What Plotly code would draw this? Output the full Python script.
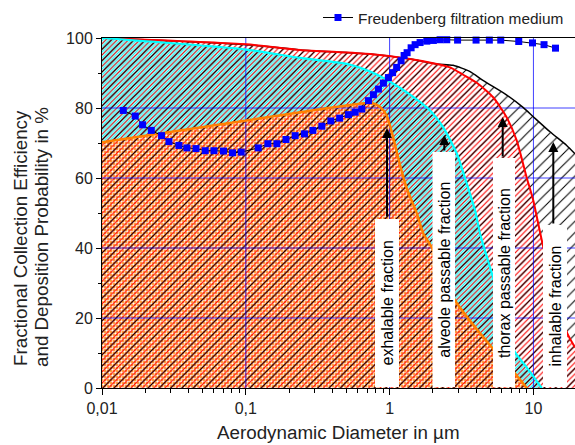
import plotly.graph_objects as go

FONT = "Liberation Sans, Arial, sans-serif"

# ---- data ----
d_inhal = [0.01, 0.1007, 0.2388, 0.732, 1.388, 2.128, 2.763, 3.626, 4.487, 6.524, 8.507, 9.98, 13.04, 17.03, 19.46]
e_inhal = [100, 98.1, 96.6, 95.4, 94.0, 92.6, 92.2, 90.4, 87.8, 83.7, 80.1, 77.5, 73.2, 69.3, 66.9]

d_thorax = [0.01, 0.1007, 0.2388, 0.732, 1.388, 2.128, 2.634, 3.243, 4.036, 5.264, 6.524, 7.656, 8.983, 9.98, 10.76, 11.72, 14.13, 17.2, 19.46]
e_thorax = [100, 98.2, 96.6, 95.4, 94.0, 92.6, 91.6, 89.5, 87.2, 83.0, 77.3, 70.7, 60.1, 53.6, 47.3, 40.2, 27.9, 15.6, 11.6]

d_alveole = [0.01, 0.1007, 0.2388, 0.5043, 0.732, 1.008, 1.388, 1.912, 2.365, 2.931, 3.44, 3.929, 4.256, 5.264, 6.247, 7.452, 8.983, 11.42]
e_alveole = [100, 96.7, 94.3, 92.6, 90.4, 87.5, 83.8, 79.3, 74.4, 67.0, 58.4, 50.7, 44.1, 31.3, 19.9, 10.2, 5.9, 0]

d_exhal = [0.01, 0.2388, 0.6943, 0.7717, 0.859, 0.956, 1.063, 1.183, 1.317, 1.545, 1.718, 1.965, 2.853, 5.131, 7.452, 8.983]
e_exhal = [70.2, 78.8, 81.4, 81.3, 80.3, 77.8, 71.3, 63.6, 57.0, 49.9, 44.1, 40.2, 25.0, 11.6, 4.1, 0]

d_freud = [0.01406, 0.01703, 0.01915, 0.02202, 0.02596, 0.02921, 0.03428, 0.03897, 0.04507, 0.05222,
           0.06003, 0.06998, 0.08084, 0.0929, 0.1220, 0.1424, 0.1645, 0.1903, 0.2204, 0.2558,
           0.2926, 0.3379, 0.3903, 0.4493, 0.5173, 0.5760, 0.6409, 0.7125, 0.7717, 0.8360,
           0.9055, 0.9811, 1.049, 1.119, 1.202, 1.261, 1.323, 1.411, 1.504, 1.629,
           1.814, 2.016, 2.243, 2.497, 2.969, 3.991, 4.937, 5.926, 7.904, 9.856, 11.85, 14.24]
e_freud = [79.3, 77.7, 75.2, 73.6, 72.1, 70.4, 69.3, 68.6, 68.4, 67.8,
           67.8, 67.7, 67.2, 67.4, 68.6, 69.8, 69.8, 71.0, 72.1, 72.6,
           73.6, 74.8, 76.3, 77.1, 78.1, 78.8, 79.7, 82.1, 83.8, 85.4,
           87.1, 88.7, 90.1, 91.6, 93.5, 95.0, 95.8, 97.2, 98.1, 98.7,
           99.1, 99.3, 99.5, 99.5, 99.4, 99.4, 99.4, 99.4, 99.0, 98.6, 98.1, 97.1]

x_major = [0.01, 0.1, 1, 10]
x_major_text = ["0,01", "0,1", "1", "10"]
x_minor = [m * 10.0 ** e for e in (-2, -1, 0, 1) for m in range(2, 10) if m * 10.0 ** e < 19.5]
y_major = [0, 20, 40, 60, 80, 100]
y_minor = [10, 30, 50, 70, 90]
x_grid = [0.1, 1, 10]
y_grid = [20, 40, 60, 80]
x_max = 19.46

labels = ["exhalable fraction", "alveole passable fraction", "thorax passable fraction", "inhalable fraction"]
legend_name = "Freudenberg filtration medium"

CYAN, ORANGE, RED, BLACK, BLUE = "#00FFFF", "#FF8000", "#FF0000", "#000000", "#0000FF"
CLEAR = "rgba(0,0,0,0)"

fig = go.Figure()

def fill_trace(x, y, pattern):
    pattern = dict(pattern, fillmode="replace", fgopacity=1)
    fig.add_trace(go.Scatter(x=x, y=y, mode="lines", line=dict(width=0, shape="spline", smoothing=0.6),
                             fill="tozeroy", fillcolor=CLEAR, fillpattern=pattern,
                             showlegend=False, hoverinfo="skip"))

fill_trace(d_alveole, e_alveole, dict(shape="/", fgcolor=CYAN, bgcolor="rgba(0,255,255,0.3)", size=2, solidity=0.45))
fill_trace(d_exhal, e_exhal, dict(shape=".", fgcolor="white", bgcolor=ORANGE, size=3, solidity=0.5))
fill_trace(d_thorax, e_thorax, dict(shape="/", fgcolor=RED, bgcolor=CLEAR, size=4, solidity=0.28))
fill_trace(d_inhal, e_inhal, dict(shape="/", fgcolor=BLACK, bgcolor=CLEAR, size=8, solidity=0.13))

# grid lines
gx, gy = [], []
for v in x_grid:
    gx += [v, v, None]
    gy += [0, 100, None]
for v in y_grid:
    gx += [0.01, x_max, None]
    gy += [v, v, None]
fig.add_trace(go.Scatter(x=gx, y=gy, mode="lines", line=dict(color="rgba(0,0,255,0.75)", width=1),
                         showlegend=False, hoverinfo="skip"))

def line_trace(x, y, color, w):
    fig.add_trace(go.Scatter(x=x, y=y, mode="lines", line=dict(color=color, width=w, shape="spline", smoothing=0.6),
                             showlegend=False, hoverinfo="skip"))

line_trace(d_inhal, e_inhal, BLACK, 1.5)
line_trace(d_thorax, e_thorax, RED, 2)
line_trace(d_alveole, e_alveole, CYAN, 2.2)
line_trace(d_exhal, e_exhal, ORANGE, 2.5)

fig.add_trace(go.Scatter(x=d_freud, y=e_freud, mode="lines+markers", name=legend_name,
                         line=dict(color=BLACK, width=1),
                         marker=dict(symbol="square", size=7, color=BLUE, line=dict(width=0)),
                         cliponaxis=False))

# label boxes (paper coords) and texts
W, H, L, B = 473.0, 350.0, 102.0, 388.0
def px(x):
    return (x - L) / W
def py(y):
    return (B - y) / H

boxes = [(375, 399, 219), (432.5, 455, 152), (493, 515, 158), (543, 567, 225)]
arrows = [(387, 128, 218), (444.3, 135, 152), (502.7, 117, 158), (553.3, 142, 225)]
shapes = []
annotations = []
for (x0, x1, top), txt in zip(boxes, labels):
    shapes.append(dict(type="rect", xref="paper", yref="paper", x0=px(x0), x1=px(x1),
                       y0=0.003, y1=py(top), fillcolor="white", line=dict(width=0), layer="above"))
    annotations.append(dict(xref="paper", yref="paper", x=px((x0 + x1) / 2), y=py((top + B) / 2),
                            text=txt, textangle=-90, showarrow=False,
                            font=dict(family=FONT, size=16, color="black"),
                            xanchor="center", yanchor="middle"))
for ax_, tip, tail in arrows:
    annotations.append(dict(xref="paper", yref="paper", x=px(ax_), y=py(tip), text="",
                            showarrow=True, ax=0, ay=tail - tip, arrowhead=2, arrowsize=1,
                            arrowwidth=2, arrowcolor="black", standoff=0))

annotations.append(dict(xref="paper", yref="paper", x=px(20), y=py(238), text="Fractional Collection Efficiency",
                        textangle=-90, showarrow=False, font=dict(family=FONT, size=18.8, color="#222"),
                        xanchor="center", yanchor="middle"))
annotations.append(dict(xref="paper", yref="paper", x=px(42), y=py(237), text="and Deposition Probability in %",
                        textangle=-90, showarrow=False, font=dict(family=FONT, size=18.8, color="#222"),
                        xanchor="center", yanchor="middle"))
annotations.append(dict(xref="paper", yref="paper", x=0.5, y=py(432), text="Aerodynamic Diameter in µm",
                        showarrow=False, font=dict(family=FONT, size=18.8, color="#222"),
                        xanchor="center", yanchor="middle"))

fig.update_layout(
    width=575, height=445,
    margin=dict(l=102, r=0, t=38, b=57, autoexpand=False),
    paper_bgcolor="white", plot_bgcolor="white",
    font=dict(family=FONT, color="#222"),
    shapes=shapes, annotations=annotations,
    showlegend=True,
    legend=dict(x=px(318), xanchor="left", y=py(18), yanchor="middle", bgcolor=CLEAR,
                font=dict(family=FONT, size=15.4, color="#222")),
    xaxis=dict(type="log", range=[-2, 1.2891], showline=True, linecolor="black", linewidth=1, mirror=True,
               ticks="outside", ticklen=6, tickcolor="black", tickvals=x_major, ticktext=x_major_text,
               minor=dict(tickvals=x_minor, ticks="outside", ticklen=3.5, tickcolor="black"),
               showgrid=False, zeroline=False, tickfont=dict(family=FONT, size=16, color="#222")),
    yaxis=dict(range=[0, 100], showline=True, linecolor="black", linewidth=1,
               ticks="outside", ticklen=5, tickcolor="black", tickvals=y_major,
               minor=dict(tickvals=y_minor, ticks="outside", ticklen=3, tickcolor="black"),
               showgrid=False, zeroline=False, tickfont=dict(family=FONT, size=16, color="#222")),
)

fig.write_html("out.html", config={"displayModeBar": False},
               post_script="document.body.style.margin='0px';document.body.style.overflow='hidden';")
